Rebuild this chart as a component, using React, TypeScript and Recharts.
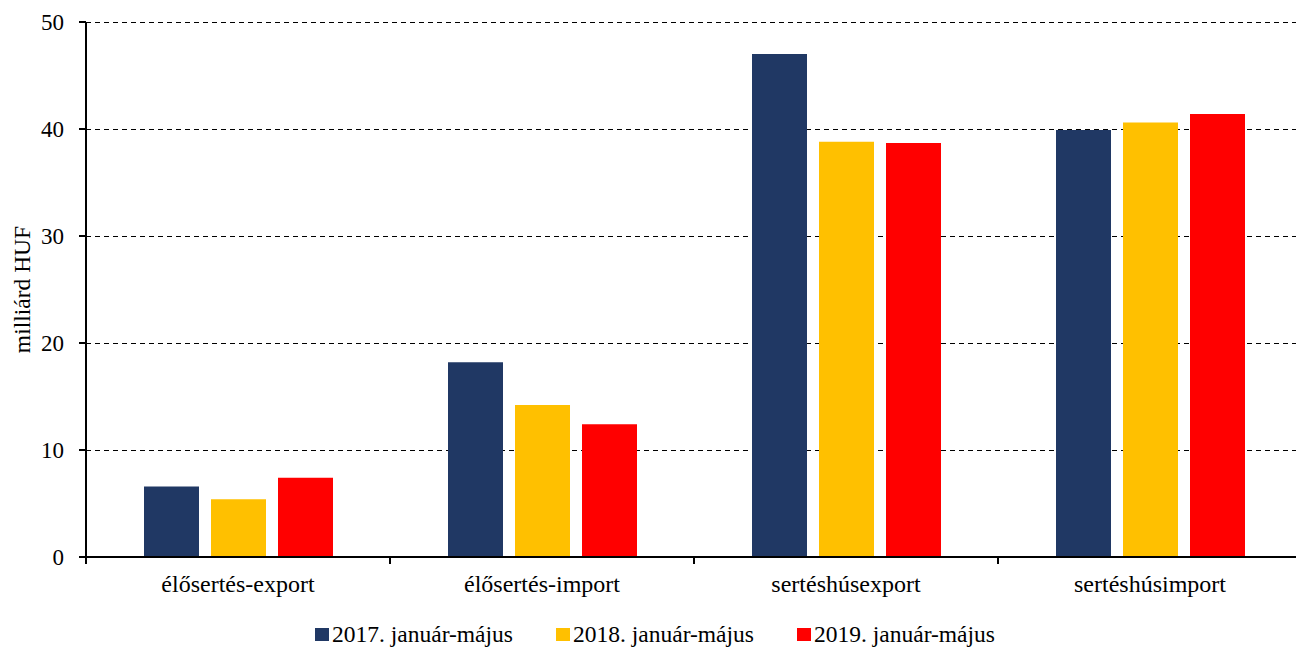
import React from "react";
import {
  BarChart,
  Bar,
  XAxis,
  YAxis,
  CartesianGrid,
  Legend,
} from "recharts";

const categories = ["élősertés-export", "élősertés-import", "sertéshúsexport", "sertéshúsimport"];
const series2017 = [6.6, 18.2, 47.0, 39.9];
const series2018 = [5.4, 14.2, 38.8, 40.6];
const series2019 = [7.4, 12.4, 38.7, 41.4];
const seriesNames = ["2017. január-május", "2018. január-május", "2019. január-május"];
const seriesColors = ["#203864", "#FFC000", "#FF0000"];
const yTicks = [0, 10, 20, 30, 40, 50];

const data = categories.map((name, i) => ({
  name,
  y2017: series2017[i],
  y2018: series2018[i],
  y2019: series2019[i],
}));

const FONT = '"Liberation Serif", "Times New Roman", serif';

// category tick: label in the middle, tick marks on the category edges
const CategoryTick = (props: any) => {
  const { x, y, payload, index, visibleTicksCount } = props;
  const half = payload.offset || 0;
  const isLast = index === visibleTicksCount - 1;
  return (
    <g>
      <line x1={x - half} x2={x - half} y1={y} y2={y + 7} stroke="#000" strokeWidth={2} />
      {isLast && <line x1={x + half} x2={x + half} y1={y} y2={y + 7} stroke="#000" strokeWidth={2} />}
      <text x={x} y={y + 35} textAnchor="middle" fontFamily={FONT} fontSize={24} fill="#000">
        {payload.value}
      </text>
    </g>
  );
};

const LegendContent = () => (
  <div style={{ display: "flex", paddingLeft: 315, paddingTop: 4, height: 28, boxSizing: "border-box", alignItems: "center", fontFamily: FONT }}>
    {seriesNames.map((n, i) => (
      <div key={n} style={{ width: 241, display: "flex", alignItems: "center" }}>
        <span style={{ width: 14, height: 13, background: seriesColors[i], display: "inline-block", marginRight: 3 }} />
        <span style={{ fontSize: 23.5, lineHeight: "20px", whiteSpace: "nowrap", color: "#000" }}>
          {n}
        </span>
      </div>
    ))}
  </div>
);

const YLabel = (props: any) => {
  const vb = props.viewBox || { x: 0, y: 0, height: 0 };
  const cx = vb.x + 22;
  const cy = vb.y + vb.height / 2;
  return (
    <text x={cx} y={cy} transform={`rotate(-90 ${cx} ${cy})`} textAnchor="middle" dominantBaseline="central" fontFamily={FONT} fontSize={23.5} fill="#000">
      milliárd HUF
    </text>
  );
};

export default function App() {
  return (
    <div style={{ position: "absolute", left: 0, top: 0, width: 1296, height: 648, overflow: "hidden", background: "#fff" }}>
      <BarChart
        width={1310}
        height={648}
        data={data}
        margin={{ top: 22, right: 8, left: 0, bottom: 2 }}
        barSize={55}
        barGap={12}
      >
        <CartesianGrid vertical={false} stroke="#000" strokeDasharray="5 4" shapeRendering="crispEdges" />
        <XAxis
          dataKey="name"
          height={61}
          axisLine={{ stroke: "#000", strokeWidth: 2 }}
          tickLine={false}
          tickSize={0}
          tickMargin={0}
          interval={0}
          tick={<CategoryTick />}
        />
        <YAxis
          width={86}
          domain={[0, 50]}
          ticks={yTicks}
          interval={0}
          axisLine={{ stroke: "#000", strokeWidth: 2 }}
          tickLine={{ stroke: "#000", strokeWidth: 2 }}
          tickSize={7}
          tickMargin={15}
          tick={{ fontFamily: FONT, fontSize: 23, fill: "#000" }}
          label={<YLabel />}
        />
        <Legend verticalAlign="bottom" content={<LegendContent />} />
        <Bar dataKey="y2017" name={seriesNames[0]} fill={seriesColors[0]} isAnimationActive={false} />
        <Bar dataKey="y2018" name={seriesNames[1]} fill={seriesColors[1]} isAnimationActive={false} />
        <Bar dataKey="y2019" name={seriesNames[2]} fill={seriesColors[2]} isAnimationActive={false} />
      </BarChart>
    </div>
  );
}
